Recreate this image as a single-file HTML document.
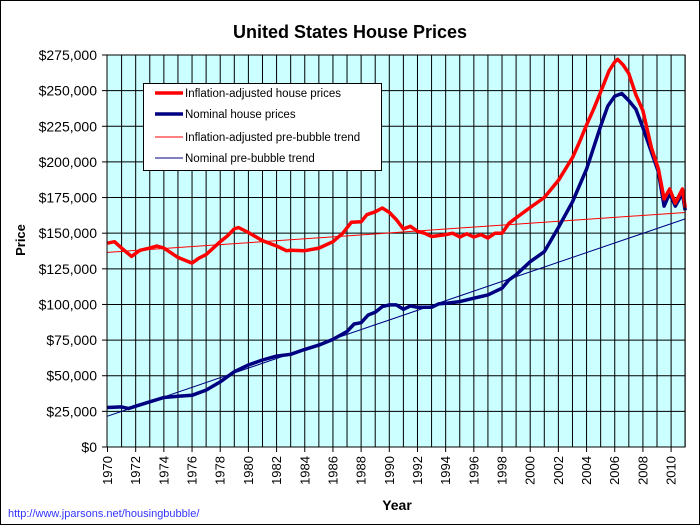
<!DOCTYPE html>
<html><head><meta charset="utf-8"><style>
html,body{margin:0;padding:0;background:#fff}
svg{display:block;font-family:"Liberation Sans",Arial,sans-serif}
</style></head><body>
<svg id="chart" width="700" height="525" viewBox="0 0 700 525">
<rect x="0.5" y="0.5" width="699" height="524" fill="#fff" stroke="#000"/>
<text x="350" y="38" text-anchor="middle" font-size="18" font-weight="bold">United States House Prices</text>
<rect x="107" y="55" width="578" height="392" fill="#ccffff" stroke="none"/>
<g id="grid"></g>
<g id="series"></g>
<rect x="107" y="55" width="578" height="392" fill="none" stroke="#000"/>
<g id="yticks"></g>
<g id="xticks"></g>
<text transform="translate(25,240) rotate(-90)" text-anchor="middle" font-size="13" font-weight="bold">Price</text>
<text x="397" y="510" text-anchor="middle" font-size="14" font-weight="bold">Year</text>
<text x="8" y="517" font-size="11" fill="#3333ff">http://www.jparsons.net/housingbubble/</text>
<g>
<rect x="143.5" y="83.5" width="238" height="87" fill="#fff" stroke="#000"/>
<g><line x1="155" y1="93" x2="183" y2="93" stroke="#ff0000" stroke-width="3.5"/><text x="185" y="97" font-size="11.5">Inflation-adjusted house prices</text></g>
<g><line x1="155" y1="114" x2="183" y2="114" stroke="#000080" stroke-width="3.5"/><text x="185" y="118" font-size="11.5">Nominal house prices</text></g>
<g><line x1="155" y1="137" x2="183" y2="137" stroke="#ff0000" stroke-width="1"/><text x="185" y="141" font-size="11.5">Inflation-adjusted pre-bubble trend</text></g>
<g><line x1="155" y1="158" x2="183" y2="158" stroke="#000080" stroke-width="1"/><text x="185" y="162" font-size="11.5">Nominal pre-bubble trend</text></g>
</g>
</svg>
<script>
const realYears=[1970,1970.5,1971,1971.7,1972.3,1973,1973.5,1974,1975,1976,1976.5,1977,1978,1978.5,1979,1979.3,1980,1981,1982,1982.7,1983,1984,1985,1986,1986.7,1987.3,1988,1988.4,1989,1989.5,1990,1990.5,1991,1991.5,1992,1992.5,1993,1994,1994.5,1995,1995.5,1996,1996.5,1997,1997.5,1998,1998.5,1999,2000,2001,2002,2003,2003.5,2004,2004.5,2005,2005.6,2006,2006.2,2006.6,2007,2007.5,2008,2008.6,2009.1,2009.5,2009.9,2010.3,2010.8,2011];
const realValues=[143,144,139.5,133.7,138,139.5,141,139.5,133,129,132.5,135,144,148,153,154,150.5,144.7,141,137.7,138,137.7,139.5,144,150,157.6,158,163,165,167.7,164.6,159.5,153,154.8,151.3,150,147.7,149,150,147.3,149.6,147.3,149,146.6,150,150,157,160.7,168,175,187,203,214,226,237,249,264,270,272,268,262,247,236,210,195,174,181,171,181,168];
const nomYears=[1970,1971,1971.5,1972,1973,1974,1975,1976,1977,1978,1979,1980,1981,1982,1983,1984,1985,1986,1987,1987.5,1988,1988.5,1989,1989.5,1990,1990.5,1991,1991.5,1992,1993,1993.5,1994,1995,1996,1997,1998,1998.5,1999,2000,2001,2002,2003,2004,2005,2005.5,2006,2006.5,2007,2007.5,2008,2008.6,2009.1,2009.5,2009.9,2010.3,2010.8,2011];
const nomValues=[27.7,28.1,27,28.6,31.7,34.7,35.6,36.3,39.9,45.7,52.8,57.5,61,63.8,65,68.5,71.5,75.5,81,86.3,87.2,92.6,94.5,98.5,99.7,99.7,96.6,99,98,98,100.4,100.8,102,104.4,106.7,111.4,117.3,120.8,130,137,154,172,195,225,239,246,248,243,237,224,207,193,169,178,169,178,166];
const realTrend=[[1970,136.5],[2011,164.5]];
const nomTrend=[[1970,21.6],[2011,160]];
const yTickValues=[0,25,50,75,100,125,150,175,200,225,250,275];
const xTickYears=[1970,1972,1974,1976,1978,1980,1982,1984,1986,1988,1990,1992,1994,1996,1998,2000,2002,2004,2006,2008,2010];

const NS='http://www.w3.org/2000/svg';
const X0=107.5,XS=14.09,Y0=447,YT=55;
function xs(yr){return X0+(yr-1970)*XS;}
function ys(v){return Y0-(v/275)*(Y0-YT);}
function mk(tag,attrs,parent){const e=document.createElementNS(NS,tag);for(const k in attrs)e.setAttribute(k,attrs[k]);parent.appendChild(e);return e;}

const grid=document.getElementById('grid');
for(let yr=1971;yr<=2011;yr++){
  const l=mk('line',{x1:xs(yr),x2:xs(yr),y1:YT,y2:Y0,stroke:'#000','stroke-width':1},grid);
  
  
}
const yt=document.getElementById('yticks');
yTickValues.forEach(v=>{
  const y=ys(v);
  if(v>0){const l=mk('line',{x1:107,x2:685,y1:y,y2:y,stroke:'#000','stroke-width':1},grid);
  
  }
  const t=mk('line',{x1:102,x2:107,y1:y,y2:y,stroke:'#000'},yt);
  
  
  const tx=mk('text',{x:97,y:y+5,'text-anchor':'end','font-size':14},yt);
  tx.textContent=v===0?'$0':'$'+v+',000';
  
  
});
const xt=document.getElementById('xticks');
xTickYears.forEach(yr=>{
  const x=xs(yr);
  const t=mk('line',{x1:x,x2:x,y1:Y0,y2:Y0+5,stroke:'#000'},xt);
  
  
  const tx=mk('text',{transform:`translate(${x+4.5},${Y0+9}) rotate(-90)`,'text-anchor':'end','font-size':13},xt);
  tx.textContent=yr;
  
  
});
const sg=document.getElementById('series');
function poly(xsArr,vals,color,w,name){
  const pts=xsArr.map((yr,i)=>xs(yr).toFixed(1)+','+ys(vals[i]).toFixed(1)).join(' ');
  const p=mk('polyline',{points:pts,fill:'none',stroke:color,'stroke-width':w,'stroke-linejoin':'round'},sg);
  
  
}
poly(realTrend.map(d=>d[0]),realTrend.map(d=>d[1]),'#ff0000',1,'inflation-adjusted-trend-line');
poly(nomTrend.map(d=>d[0]),nomTrend.map(d=>d[1]),'#000080',1,'nominal-trend-line');
poly(nomYears,nomValues,'#000080',3.5,'nominal-price-line');
poly(realYears,realValues,'#ff0000',3.5,'inflation-adjusted-price-line');
</script>
</body></html>
